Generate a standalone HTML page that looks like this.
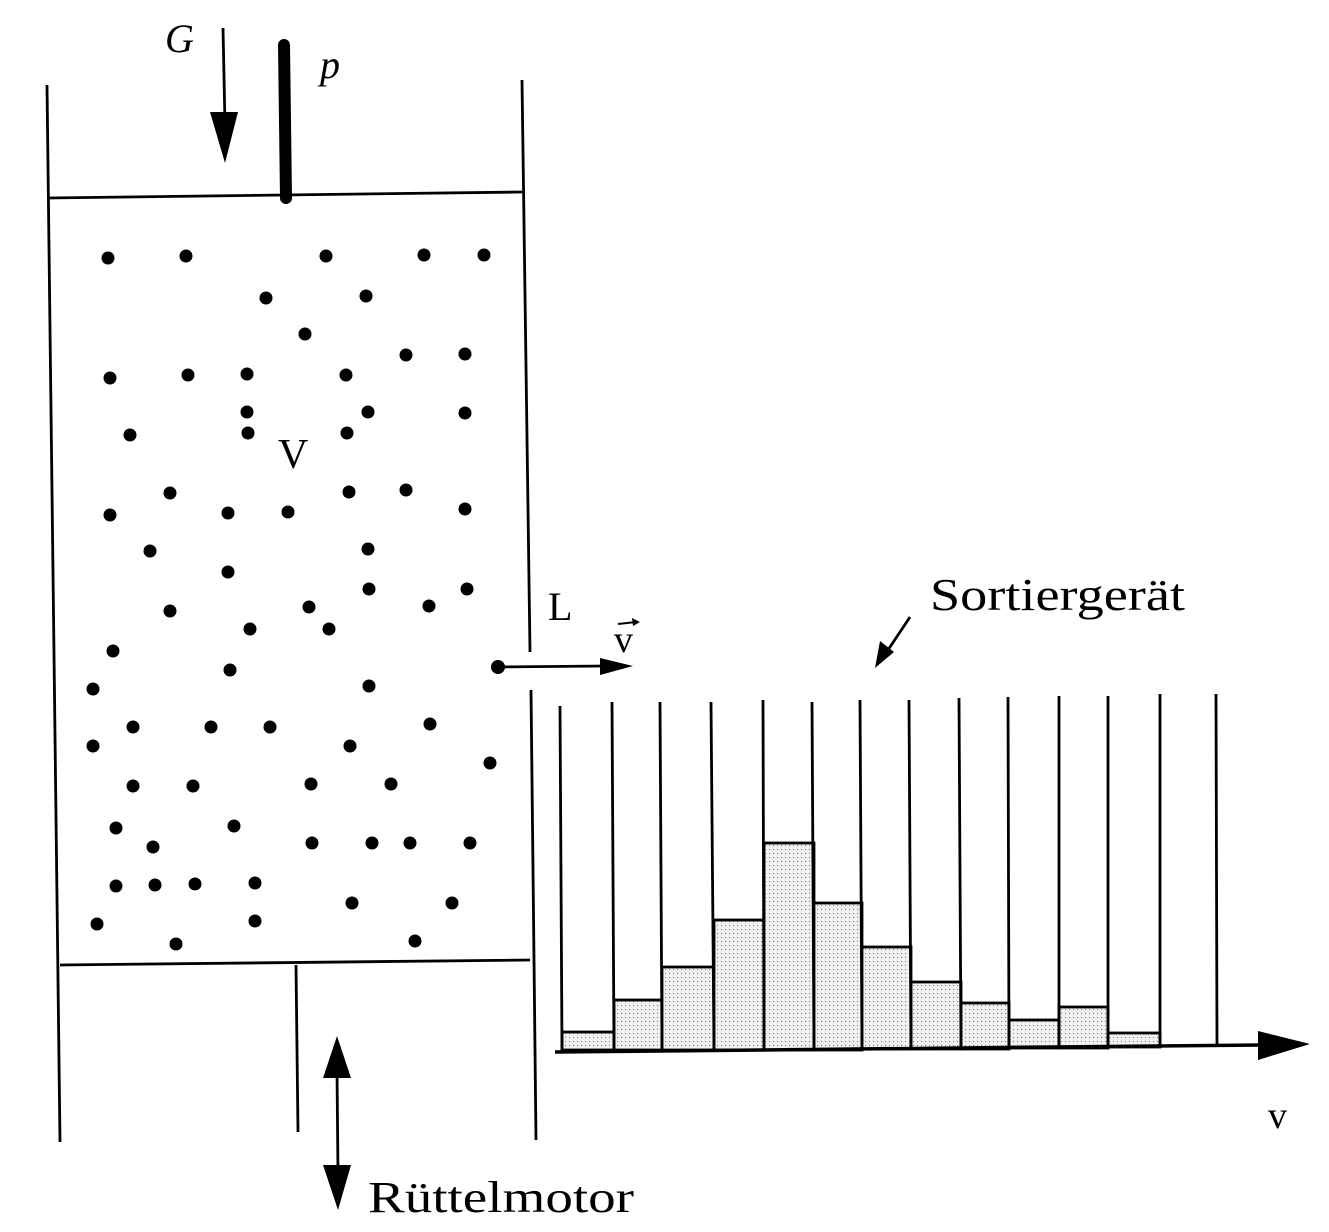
<!DOCTYPE html>
<html><head><meta charset="utf-8"><style>
html,body{margin:0;padding:0;background:#fff}
svg{display:block}
text{font-family:"Liberation Serif",serif;fill:#000}
</style></head><body>
<svg width="1329" height="1232" viewBox="0 0 1329 1232" xmlns="http://www.w3.org/2000/svg">
<defs>
<pattern id="dots" width="4" height="4" patternUnits="userSpaceOnUse">
<rect width="4" height="4" fill="#f0f0f0"/><rect x="1" y="1" width="1" height="1" fill="#777"/>
</pattern>
</defs>
<g stroke="#000" fill="none" stroke-width="2.8">
<line x1="47" y1="85" x2="60" y2="1142"/>
<line x1="522" y1="80" x2="530" y2="652"/>
<line x1="531" y1="690" x2="536" y2="1140"/>
<line x1="47" y1="198" x2="522" y2="192"/>
<line x1="60" y1="965" x2="530" y2="960"/>
<line x1="296" y1="965" x2="298" y2="1132"/>
<line x1="223" y1="28" x2="225" y2="125"/>
<line x1="497" y1="667" x2="605" y2="666"/>
<line x1="910" y1="617" x2="888" y2="650"/>
<line x1="337" y1="1070" x2="338" y2="1175"/>
</g>
<line x1="284" y1="45" x2="286" y2="198" stroke="#000" stroke-width="12" stroke-linecap="round"/>
<g fill="#000">
<polygon points="210,112 238,112 225,163"/>
<polygon points="600,658 633,666 600,675"/>
<polygon points="880,641 894,652 875,668"/>
<polygon points="337,1036 323,1078 351,1078"/>
<polygon points="323,1165 351,1165 338,1210"/>
<polygon points="1258,1031 1310,1044 1258,1060"/>
</g>
<g stroke="#000" stroke-width="2.8" fill="url(#dots)">
<rect x="562" y="1032" width="52" height="18"/>
<rect x="614" y="1000" width="48" height="50"/>
<rect x="662" y="967" width="52" height="83"/>
<rect x="714" y="920" width="50" height="130"/>
<rect x="764" y="843" width="50" height="207"/>
<rect x="814" y="903" width="48" height="147"/>
<rect x="862" y="947" width="49" height="102"/>
<rect x="911" y="982" width="50" height="67"/>
<rect x="961" y="1003" width="48" height="46"/>
<rect x="1009" y="1020" width="50" height="28"/>
<rect x="1059" y="1007" width="49" height="41"/>
<rect x="1108" y="1033" width="52" height="14"/>
</g>
<g stroke="#000" stroke-width="2.8">
<line x1="560" y1="706" x2="562" y2="1050"/>
<line x1="612" y1="702" x2="614" y2="1050"/>
<line x1="660" y1="702" x2="662" y2="1050"/>
<line x1="711" y1="702" x2="714" y2="1050"/>
<line x1="763" y1="700" x2="764" y2="1050"/>
<line x1="812" y1="702" x2="814" y2="1050"/>
<line x1="860" y1="700" x2="862" y2="1050"/>
<line x1="909" y1="700" x2="911" y2="1049"/>
<line x1="959" y1="698" x2="961" y2="1049"/>
<line x1="1008" y1="697" x2="1009" y2="1048"/>
<line x1="1059" y1="696" x2="1059" y2="1048"/>
<line x1="1108" y1="696" x2="1108" y2="1047"/>
<line x1="1160" y1="694" x2="1160" y2="1047"/>
<line x1="1216" y1="694" x2="1217" y2="1045"/>
<line x1="555" y1="1052" x2="1262" y2="1045" stroke-width="3.5"/>
</g>
<g fill="#000">
<circle cx="108" cy="258" r="6.5"/><circle cx="186" cy="256" r="6.5"/><circle cx="326" cy="256" r="6.5"/><circle cx="424" cy="255" r="6.5"/><circle cx="484" cy="255" r="6.5"/>
<circle cx="266" cy="298" r="6.5"/><circle cx="366" cy="296" r="6.5"/><circle cx="305" cy="334" r="6.5"/>
<circle cx="110" cy="378" r="6.5"/><circle cx="188" cy="375" r="6.5"/><circle cx="247" cy="374" r="6.5"/><circle cx="346" cy="375" r="6.5"/><circle cx="406" cy="355" r="6.5"/><circle cx="465" cy="354" r="6.5"/>
<circle cx="247" cy="412" r="6.5"/><circle cx="368" cy="412" r="6.5"/><circle cx="465" cy="413" r="6.5"/>
<circle cx="130" cy="435" r="6.5"/><circle cx="248" cy="433" r="6.5"/><circle cx="347" cy="433" r="6.5"/>
<circle cx="170" cy="493" r="6.5"/><circle cx="110" cy="515" r="6.5"/><circle cx="228" cy="513" r="6.5"/><circle cx="288" cy="512" r="6.5"/><circle cx="349" cy="492" r="6.5"/><circle cx="406" cy="490" r="6.5"/><circle cx="465" cy="509" r="6.5"/>
<circle cx="150" cy="551" r="6.5"/><circle cx="368" cy="549" r="6.5"/><circle cx="228" cy="572" r="6.5"/>
<circle cx="170" cy="611" r="6.5"/><circle cx="309" cy="607" r="6.5"/><circle cx="369" cy="589" r="6.5"/><circle cx="429" cy="606" r="6.5"/><circle cx="467" cy="589" r="6.5"/>
<circle cx="250" cy="629" r="6.5"/><circle cx="329" cy="629" r="6.5"/><circle cx="113" cy="651" r="6.5"/><circle cx="230" cy="670" r="6.5"/><circle cx="369" cy="686" r="6.5"/><circle cx="93" cy="689" r="6.5"/>
<circle cx="133" cy="727" r="6.5"/><circle cx="211" cy="727" r="6.5"/><circle cx="270" cy="727" r="6.5"/><circle cx="430" cy="724" r="6.5"/><circle cx="350" cy="746" r="6.5"/><circle cx="93" cy="746" r="6.5"/><circle cx="490" cy="763" r="6.5"/>
<circle cx="133" cy="786" r="6.5"/><circle cx="193" cy="786" r="6.5"/><circle cx="311" cy="784" r="6.5"/><circle cx="391" cy="784" r="6.5"/>
<circle cx="116" cy="828" r="6.5"/><circle cx="234" cy="826" r="6.5"/><circle cx="153" cy="847" r="6.5"/><circle cx="312" cy="843" r="6.5"/><circle cx="372" cy="843" r="6.5"/><circle cx="410" cy="843" r="6.5"/><circle cx="470" cy="843" r="6.5"/>
<circle cx="116" cy="886" r="6.5"/><circle cx="155" cy="885" r="6.5"/><circle cx="195" cy="884" r="6.5"/><circle cx="255" cy="883" r="6.5"/><circle cx="352" cy="903" r="6.5"/><circle cx="452" cy="903" r="6.5"/>
<circle cx="97" cy="924" r="6.5"/><circle cx="255" cy="921" r="6.5"/><circle cx="176" cy="944" r="6.5"/><circle cx="415" cy="941" r="6.5"/>
<circle cx="498" cy="667" r="7"/>
</g>
<text x="165" y="52" font-size="40" font-style="italic">G</text>
<text x="320" y="78" font-size="40" font-style="italic">p</text>
<text x="278" y="468" font-size="42">V</text>
<text x="548" y="620" font-size="40">L</text>
<text x="614" y="652" font-size="38">v</text>
<line x1="618" y1="624" x2="636" y2="622" stroke="#000" stroke-width="2"/>
<polygon points="632,618 640,622 633,626" fill="#000"/>
<text x="930" y="610" font-size="46" textLength="255" lengthAdjust="spacingAndGlyphs">Sortiergerät</text>
<text x="368" y="1212" font-size="44" textLength="266" lengthAdjust="spacingAndGlyphs">Rüttelmotor</text>
<text x="1268" y="1128" font-size="38">v</text>
</svg>
</body></html>
